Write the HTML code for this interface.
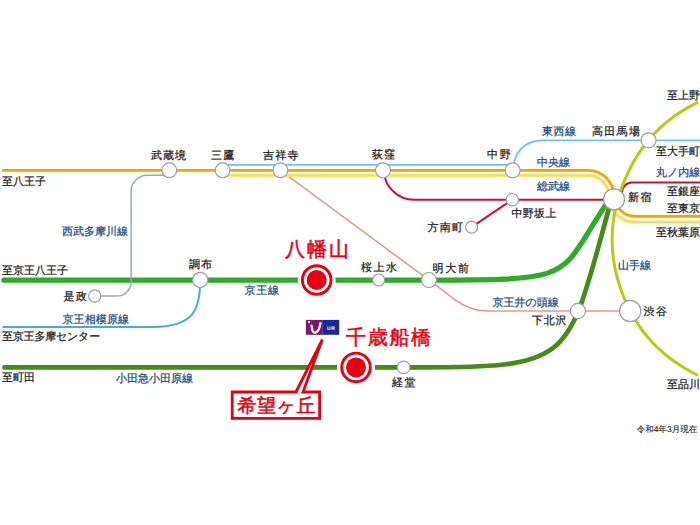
<!DOCTYPE html>
<html><head><meta charset="utf-8">
<style>
html,body{margin:0;padding:0;background:#fff;}
svg{display:block;}
text{text-rendering:geometricPrecision;}
text{font-family:"Liberation Sans",sans-serif;font-size:11px;fill:#1a1a1a;stroke:#1a1a1a;stroke-width:0.25px;}
.b{fill:#184a88;stroke:#184a88;}
.r{fill:#e60012;stroke:#e60012;stroke-width:0.5px;font-size:20px;}
.st{fill:#fff;stroke:#9c9fa0;stroke-width:1.2;}
</style></head><body>
<svg width="700" height="525" viewBox="0 0 700 525">
<g fill="none" stroke-linecap="round">
<!-- Keio Sagamihara -->
<path d="M200.2 280 C200.2 309 194.5 326.9 152.4 326.9 H2.5" stroke="#45b2c2" stroke-width="2" stroke-linecap="butt"/>
<!-- Inokashira -->
<path d="M280.4 170.3 L435.9 285.2 C451 296.3 464.6 310.9 486.9 310.9 H630" stroke="#df9c8a" stroke-width="1.5"/>
<!-- Tozai -->
<path d="M222.6 164.9 H512" stroke="#6ec3f0" stroke-width="1.8"/>
<path d="M512 170.5 L513.8 163.3 C517.8 147.5 527.8 140.3 543.2 140.3 H700" stroke="#6ec3f0" stroke-width="1.8" stroke-linecap="butt"/>
<!-- Sobu -->
<path d="M222.6 175.3 H588 A21 21 0 0 1 609 196.4" stroke="#ffdc5a" stroke-width="3"/>
<path d="M608 195 A27 27 0 0 0 635 222 H700" stroke="#ffdc5a" stroke-width="3" stroke-linecap="butt"/>
<!-- Chuo -->
<path d="M2.1 170.4 H588 A26 26 0 0 1 614 196.4" stroke="#f8a200" stroke-width="2.8" stroke-linecap="butt"/>
<path d="M614 195 A21.4 21.4 0 0 0 635 216.4 H700" stroke="#f8a200" stroke-width="2.8" stroke-linecap="butt"/>
<!-- Marunouchi -->
<path d="M383.9 170 A30.5 29.8 0 0 0 414.4 199.8 H614" stroke="#cc0f33" stroke-width="2"/>
<path d="M619 197 L622 192.6 A10 10 0 0 1 632 182.6 H700" stroke="#cc0f33" stroke-width="2" stroke-linecap="butt"/>
<path d="M512.3 199.7 L471.6 227.2" stroke="#cc0f33" stroke-width="2"/>
<!-- Keio -->
<path d="M3.9 280.1 H429.2 C584.05 280 555.74 277.79 609.69 199" stroke="#2faa2a" stroke-width="5.2"/>
<!-- Seibu Tamagawa -->
<path d="M169 175.3 H147 A16 16 0 0 0 131.1 191.2 V282 A14 14 0 0 1 117.1 296.1 H95" stroke="#9aa4d4" stroke-width="1.5"/>
<!-- Yamanote -->
<path d="M697.1 102.6 L694.2 104.1 L691.5 105.6 L688.8 107.1 L686.2 108.6 L683.7 110.1 L681.3 111.6 L679.0 113.1 L676.8 114.6 L674.6 116.1 L672.5 117.6 L670.5 119.1 L668.6 120.6 L666.7 122.1 L664.9 123.6 L663.2 125.1 L661.5 126.6 L659.8 128.1 L658.3 129.6 L656.7 131.1 L655.2 132.6 L653.8 134.1 L652.4 135.6 L651.1 137.1 L649.8 138.6 L648.6 140.0 L645.4 144.0 L642.4 148.0 L639.6 152.0 L637.0 156.0 L634.6 160.0 L632.4 164.0 L630.3 168.0 L628.3 172.0 L626.5 176.0 L624.7 180.0 L623.1 184.0 L621.6 188.0 L620.2 192.0 L619.0 196.0 L617.8 200.0 L616.7 204.0 L615.8 208.0 L614.9 212.0 L614.2 216.0 L613.5 220.0 L613.0 224.0 L612.6 228.0 L612.3 232.0 L612.2 236.0 L612.1 240.0 L612.2 244.0 L612.4 248.0 L612.7 252.0 L613.1 256.0 L613.6 260.0 L614.2 264.0 L615.0 268.0 L615.8 272.0 L616.8 276.0 L617.9 280.0 L619.1 284.0 L620.4 288.0 L621.9 292.0 L623.4 296.0 L625.1 300.0 L626.9 304.0 L628.8 308.0 L630.9 312.0 L633.1 316.0 L635.4 320.0 L638.0 324.0 L640.7 328.0 L643.6 332.0 L646.8 336.0 L650.2 340.0 L651.6 341.5 L653.0 343.0 L654.4 344.5 L655.9 346.0 L657.4 347.5 L659.0 349.0 L660.7 350.5 L662.4 352.0 L664.1 353.5 L665.9 355.0 L667.8 356.5 L669.7 358.0 L671.7 359.5 L673.8 361.0 L676.0 362.5 L678.2 364.0 L680.5 365.5 L682.9 367.0 L685.4 368.5 L688.0 370.0 L690.7 371.5 L693.4 373.0 L696.3 374.5 L696.9 374.8" stroke="#b7cc0e" stroke-width="3" stroke-linejoin="round"/>
<!-- Odakyu -->
<path d="M4.4 367.4 H417.6 C578.07 367.4 566.35 360.76 611.29 200" stroke="#468a18" stroke-width="4.7"/>
</g>
<!-- stations -->
<circle class="st" cx="169.3" cy="170.3" r="7.4"/>
<circle class="st" cx="222.6" cy="170.3" r="7.4"/>
<circle class="st" cx="280.4" cy="170.3" r="7.4"/>
<circle class="st" cx="383" cy="170.3" r="7.5"/>
<circle class="st" cx="512.6" cy="170.3" r="7.5"/>
<circle class="st" cx="648.6" cy="140.3" r="7.5"/>
<circle class="st" cx="614" cy="199.3" r="10.5"/>
<circle class="st" cx="512.3" cy="199.7" r="6.2"/>
<circle class="st" cx="471.6" cy="227.2" r="6"/>
<circle class="st" cx="94.7" cy="296" r="6.1"/>
<circle class="st" cx="200.2" cy="279.9" r="7.6"/>
<circle class="st" cx="378.6" cy="280" r="6"/>
<circle class="st" cx="428.9" cy="280" r="7.5"/>
<circle class="st" cx="577.9" cy="311" r="7.6"/>
<circle class="st" cx="630.2" cy="311" r="10.6"/>
<circle class="st" cx="403.6" cy="367.4" r="6.3"/>
<!-- red stations -->
<circle cx="316.7" cy="280" r="19" fill="#fff"/>
<circle cx="316.7" cy="280" r="14.3" fill="none" stroke="#e60012" stroke-width="2.9"/>
<circle cx="316.7" cy="280" r="10" fill="#e60012"/>
<circle cx="356" cy="367.4" r="19" fill="#fff"/>
<circle cx="356" cy="367.4" r="14.3" fill="none" stroke="#e60012" stroke-width="2.9"/>
<circle cx="356" cy="367.4" r="10" fill="#e60012"/>
<!-- callout -->
<path d="M296 392 L322.3 339.6 L303 392 H319.6 V418.3 H232.2 V392 Z" fill="#fff" stroke="#e60012" stroke-width="2.8" stroke-linejoin="miter" stroke-miterlimit="4"/>
<!-- UR logo -->
<rect x="305.9" y="319.9" width="16.9" height="14.9" fill="#80176c"/>
<rect x="322.7" y="319.9" width="16.5" height="14.9" fill="#172a96"/>
<path d="M311.6 325.6 Q312 333 315.2 332.6 Q319.2 332 320.4 323.2" fill="none" stroke="#fff" stroke-width="2.3" stroke-linecap="round"/>
<circle cx="309" cy="322" r="1.1" fill="#fff"/>
<text x="327" y="329.6" style="font-size:5px;fill:#fff;stroke:none;font-weight:bold" letter-spacing="0.7">UR</text>
<!-- labels black -->
<text x="2" y="185">至八王子</text>
<text x="151" y="158.5" letter-spacing="1">武蔵境</text>
<text x="211" y="158.5" letter-spacing="1.3">三鷹</text>
<text x="263" y="158.5" letter-spacing="1.2">吉祥寺</text>
<text x="372" y="157.8" letter-spacing="1">荻窪</text>
<text x="487" y="157.8" letter-spacing="1.8">中野</text>
<text x="592" y="135" letter-spacing="1.3">高田馬場</text>
<text x="667" y="98.5">至上野</text>
<text x="656" y="154.7">至大手町</text>
<text x="628" y="201" letter-spacing="1.5">新宿</text>
<text x="667" y="195">至銀座</text>
<text x="667" y="212">至東京</text>
<text x="656" y="235.5">至秋葉原</text>
<text x="511.5" y="216.5" letter-spacing="0.3">中野坂上</text>
<text x="427.5" y="230.5" letter-spacing="1.3">方南町</text>
<text x="2" y="274">至京王八王子</text>
<text x="63.5" y="299.5" letter-spacing="1.5">是政</text>
<text x="189" y="267.5" letter-spacing="1">調布</text>
<text x="361" y="271" letter-spacing="1.5">桜上水</text>
<text x="432.5" y="272" letter-spacing="1.8">明大前</text>
<text x="532" y="323.7" letter-spacing="0.8">下北沢</text>
<text x="643.5" y="315" letter-spacing="1.5">渋谷</text>
<text x="2" y="340" letter-spacing="-0.2">至京王多摩センター</text>
<text x="2" y="380.5">至町田</text>
<text x="392" y="385.5" letter-spacing="1.5">経堂</text>
<text x="667" y="387.5">至品川</text>
<text x="636.8" y="431.6" style="font-size:8.5px;stroke-width:0.1px">令和4年3月現在</text>
<!-- labels blue -->
<text class="b" x="542" y="134.5" letter-spacing="0.5">東西線</text>
<text class="b" x="537" y="165.5">中央線</text>
<text class="b" x="537" y="189.5">総武線</text>
<text class="b" x="656" y="176">丸ノ内線</text>
<text class="b" x="62" y="234.5">西武多摩川線</text>
<text class="b" x="62.5" y="322.5" letter-spacing="0.1">京王相模原線</text>
<text class="b" x="244.5" y="294" letter-spacing="0.7">京王線</text>
<text class="b" x="492.5" y="306">京王井の頭線</text>
<text class="b" x="618" y="269">山手線</text>
<text class="b" x="116" y="382">小田急小田原線</text>
<!-- red labels -->
<text class="r" x="285" y="256" letter-spacing="2">八幡山</text>
<text class="r" x="346" y="343.5" letter-spacing="1.7">千歳船橋</text>
<text class="r" x="237.5" y="412.3" style="font-size:19px" letter-spacing="0.5">希望ヶ丘</text>
</svg>
</body></html>
